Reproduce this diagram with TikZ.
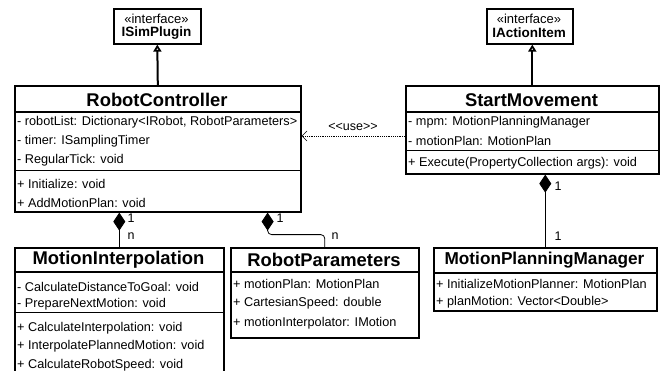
\documentclass[tikz,border=0pt]{standalone}
\usepackage{fontspec}
\setmainfont{Liberation Sans}
\usetikzlibrary{arrows.meta,calc}

\tikzset{
  classbox/.style={draw, line width=1.6pt, inner sep=0pt, anchor=north west},
  title/.style={inner sep=0pt, font=\fontsize{18.4}{20}\selectfont\bfseries},
  stereo/.style={inner sep=0pt, font=\fontsize{13}{15}\selectfont},
  ifname/.style={inner sep=0pt, font=\fontsize{13.5}{15}\selectfont\bfseries},
  member/.style={anchor=west, inner sep=0pt, font=\fontsize{12.7}{14}\selectfont},
  band/.style={line width=1.3pt},
  divider/.style={line width=0.7pt},
  mult/.style={inner sep=0pt, font=\fontsize{12.5}{14}\selectfont},
  realize/.style={draw, line width=2pt, -{Triangle[open, length=7pt, width=8pt]}},
  compose/.style={line width=0.8pt, {Diamond[length=18pt, width=12pt]}-},
  usedep/.style={line width=0.6pt, dash pattern=on 1.2pt off 1pt, -{Straight Barb[length=5pt, width=10pt]}},
}

\begin{document}
\begin{tikzpicture}[x=1pt, y=-1pt]
\clip (0,0) rectangle (668,371);

% interfaces
\node[classbox, minimum width=87pt, minimum height=35pt] (isim) at (113,8) {};
\node[stereo] (isimst) at (156.5,19) {«interface»};
\node[ifname] (isimnm) at (156.5,33) {ISimPlugin};

\node[classbox, minimum width=86pt, minimum height=35pt] (iact) at (486,8) {};
\node[stereo] (iactst) at (529,19) {«interface»};
\node[ifname] (iactnm) at (529,33) {IActionItem};

% RobotController
\node[classbox, minimum width=286pt, minimum height=126pt] (rc) at (14,85) {};
\node[title] (rct) at (157,100) {RobotController};
\draw[band] (rc.west |- 0,112) -- (rc.east |- 0,112);
\node[member] (rc1) at (17,122) {- robotList: Dictionary<IRobot, RobotParameters>};
\node[member] (rc2) at (17,141) {- timer: ISamplingTimer};
\node[member] (rc3) at (17,160) {- RegularTick: void};
\draw[divider] (rc.west |- 0,170) -- (rc.east |- 0,170);
\node[member] (rc4) at (17,184) {+ Initialize: void};
\node[member] (rc5) at (17,203) {+ AddMotionPlan: void};

% StartMovement
\node[classbox, minimum width=253pt, minimum height=88pt] (sm) at (405,85) {};
\node[title] (smt) at (531.5,100) {StartMovement};
\draw[band] (sm.west |- 0,112) -- (sm.east |- 0,112);
\node[member] (sm1) at (408,122) {- mpm: MotionPlanningManager};
\node[member] (sm2) at (408,141) {- motionPlan: MotionPlan};
\draw[divider] (sm.west |- 0,150) -- (sm.east |- 0,150);
\node[member] (sm3) at (408,163) {+ Execute(PropertyCollection args): void};

% MotionInterpolation (runs past the lower edge)
\node[classbox, minimum width=209pt, minimum height=150pt] (mi) at (14,247) {};
\node[title] (mit) at (118.5,260) {MotionInterpolation};
\draw[band] (mi.west |- 0,272) -- (mi.east |- 0,272);
\node[member] (mi1) at (17,287) {- CalculateDistanceToGoal: void};
\node[member] (mi2) at (17,304) {- PrepareNextMotion: void};
\draw[divider] (mi.west |- 0,312) -- (mi.east |- 0,312);
\node[member] (mi3) at (17,328) {+ CalculateInterpolation: void};
\node[member] (mi4) at (17,346) {+ InterpolatePlannedMotion: void};
\node[member] (mi5) at (17,365) {+ CalculateRobotSpeed: void};

% RobotParameters
\node[classbox, minimum width=188pt, minimum height=90pt] (rp) at (230,247) {};
\node[title] (rpt) at (324,260) {RobotParameters};
\draw[band] (rp.west |- 0,272) -- (rp.east |- 0,272);
\node[member] (rp1) at (233,284) {+ motionPlan: MotionPlan};
\node[member] (rp2) at (233,303) {+ CartesianSpeed: double};
\node[member] (rp3) at (233,323) {+ motionInterpolator: IMotion};

% MotionPlanningManager
\node[classbox, minimum width=223pt, minimum height=63pt] (mpm) at (433,247) {};
\node[title, font=\fontsize{17.2}{19}\selectfont\bfseries] (mpmt) at (544.5,260) {MotionPlanningManager};
\draw[band] (mpm.west |- 0,273) -- (mpm.east |- 0,273);
\node[member] (mpm1) at (436,284) {+ InitializeMotionPlanner: MotionPlan};
\node[member] (mpm2) at (436,302) {+ planMotion: Vector<Double>};

% realization
\draw[realize] (rc.north) -- (isim.south);
\draw[realize] (sm.north) -- (sm.north |- iact.south);

% usage dependency
\draw[usedep] ($(sm.north west)+(0,51)$) -- ($(rc.north east)+(0,51)$);
\node[mult] (uselbl) at (353,127) {<\kern0pt<use>\kern0pt>};

% compositions
\draw[compose] (mi.north |- rc.south) -- (mi.north);
\node[mult] (m1a) at (131,218) {1};
\node[mult] (m1b) at (131,236) {n};

\draw[compose, rounded corners=4pt] ($(rc.south east)+(-34,0)$) -- ++(0,22) -| (rp.north);
\node[mult] (m2a) at (280,218) {1};
\node[mult] (m2b) at (335,236) {n};

\draw[compose] (mpm.north |- sm.south) -- (mpm.north);
\node[mult] (m3a) at (558,186) {1};
\node[mult] (m3b) at (558,236) {1};
\end{tikzpicture}
\end{document}
